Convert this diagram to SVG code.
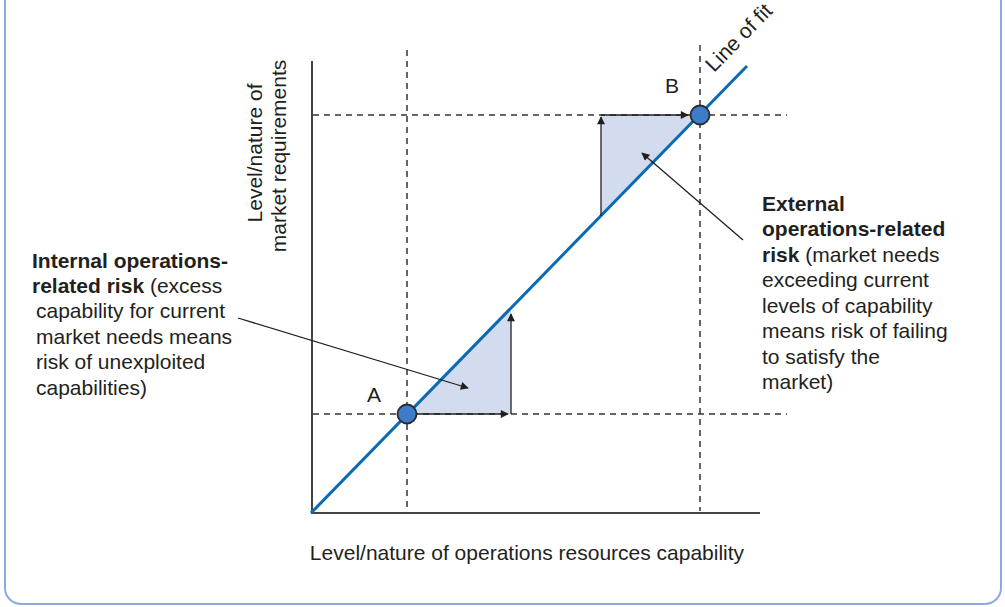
<svg xmlns="http://www.w3.org/2000/svg" width="1005" height="607" viewBox="0 0 1005 607">
<style>
text{font-family:"Liberation Sans",Arial,sans-serif;font-size:21px;fill:#231f20}
.b{font-weight:bold}
.dash{stroke:#333;stroke-width:1.5;stroke-dasharray:6 5;fill:none}
.axis{stroke:#444;stroke-width:2;fill:none}
.arr{stroke:#231f20;stroke-width:1.3;fill:none;marker-end:url(#ah)}
.tri{fill:#d3dcee;stroke:none}
.pt{fill:#3d7cc9;stroke:#2b2b2b;stroke-width:1.8}
</style>
<defs>
<marker id="ah" viewBox="0 0 10 10" refX="9" refY="5" markerWidth="10" markerHeight="8" markerUnits="userSpaceOnUse" orient="auto">
<path d="M0,0 L10,5 L0,10 z" fill="#231f20"/>
</marker>
</defs>
<rect x="5" y="-30" width="996" height="634" rx="16" fill="#fff" stroke="#8eaadb" stroke-width="2"/>
<g id="shading">
<polygon class="tri" points="407,414 511,414 511,309"/>
<polygon class="tri" points="601,216 601,115 700,115"/>
</g>
<g id="grid">
<line class="dash" x1="313" y1="414" x2="787" y2="414"/>
<line class="dash" x1="313" y1="115" x2="787" y2="115"/>
<line class="dash" x1="407" y1="50" x2="407" y2="511"/>
<line class="dash" x1="700" y1="45" x2="700" y2="511"/>
</g>
<g id="axes">
<line class="axis" x1="312" y1="61" x2="312" y2="513"/>
<line class="axis" x1="311" y1="513" x2="760" y2="513"/>
</g>
<g id="connectors">
<line x1="311" y1="513" x2="747" y2="66" stroke="#0a6ab4" stroke-width="3"/>
<line class="arr" x1="416" y1="414" x2="508" y2="414"/>
<line class="arr" x1="511" y1="414" x2="511" y2="314"/>
<line class="arr" x1="601" y1="216" x2="601" y2="117"/>
<line class="arr" x1="601" y1="115" x2="688" y2="115"/>
<line class="arr" x1="238" y1="318" x2="468" y2="388"/>
<line class="arr" x1="743" y1="240" x2="642" y2="153"/>
</g>
<g id="pointA">
<circle class="pt" cx="407" cy="414" r="9.5"/>
<text x="374" y="402" text-anchor="middle">A</text>
</g>
<g id="pointB">
<circle class="pt" cx="700" cy="115" r="9.5"/>
<text x="672" y="93" text-anchor="middle">B</text>
</g>
<g id="line-label">
<text transform="translate(714,73) rotate(-45.7)">Line of fit</text>
</g>
<g id="y-label">
<text transform="translate(262,153) rotate(-90)" text-anchor="middle">Level/nature of</text>
<text transform="translate(286,156) rotate(-90)" text-anchor="middle">market requirements</text>
</g>
<g id="x-label">
<text x="527" y="560" text-anchor="middle">Level/nature of operations resources capability</text>
</g>
<g id="internal-risk">
<text x="32" y="268"><tspan class="b">Internal operations-</tspan></text>
<text x="32" y="293"><tspan class="b">related risk</tspan> (excess</text>
<text x="36" y="318">capability for current</text>
<text x="36" y="344">market needs means</text>
<text x="36" y="369">risk of unexploited</text>
<text x="36" y="395">capabilities)</text>
</g>
<g id="external-risk">
<text x="762" y="211" class="b">External</text>
<text x="762" y="236" class="b">operations-related</text>
<text x="762" y="262"><tspan class="b">risk</tspan> (market needs</text>
<text x="762" y="287">exceeding current</text>
<text x="762" y="313">levels of capability</text>
<text x="762" y="338">means risk of failing</text>
<text x="762" y="364">to satisfy the</text>
<text x="762" y="389">market)</text>
</g>
</svg>
